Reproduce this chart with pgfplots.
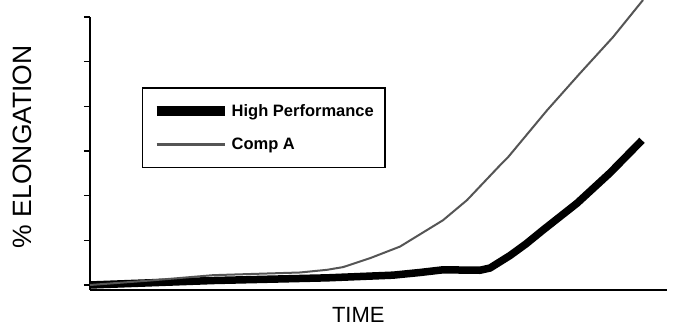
\documentclass[border=0pt]{standalone}
\usepackage{fontspec}
\setmainfont{Liberation Sans}
\usepackage{pgfplots}
\pgfplotsset{compat=1.18}
\definecolor{compgray}{HTML}{555555}
\begin{document}
\begin{tikzpicture}
\begin{axis}[
  width=577pt, height=273pt, scale only axis,
  xmin=0, xmax=577, ymin=-0.112, ymax=6,
  axis lines*=left,
  axis line style={line width=1.8pt, black},
  clip=false,
  xtick=\empty,
  ytick={0,1,2,3,4,5,6}, yticklabels={},
  tick align=outside, major tick length=6pt,
  tick style={line width=1.5pt, black},
  xlabel={TIME}, ylabel={\% ELONGATION},
  xlabel style={at={(axis description cs:0.465,0)}, anchor=north, yshift=-17pt, inner sep=0pt, font=\fontsize{22}{26}\selectfont},
  ylabel style={at={(axis description cs:-0.118,0.525)}, anchor=center, inner sep=0pt, font=\fontsize{26.5}{31}\selectfont},
  legend style={at={(axis description cs:0.09,0.742)}, anchor=north west, draw=black, line width=1.5pt,
    font=\bfseries\fontsize{16.5}{19}\selectfont, inner xsep=9pt, inner ysep=14.5pt, row sep=16pt},
  legend cell align=left,
]
\addplot[black, line width=7.5pt, line join=round,
  legend image code/.code={\draw[black, line width=10pt] (0pt,0pt) -- (68pt,0pt);}] coordinates {
 (0,0) (123,0.10) (237,0.16) (303,0.22) (330,0.28) (353,0.34) (390,0.33) (400,0.38) (410,0.52) (420,0.66) (436,0.92) (453,1.23) (487,1.83) (520,2.51) (552,3.24)
};
\addlegendentry{High Performance}
\addplot[compgray, line width=2pt, line join=round,
  legend image code/.code={\draw[compgray, line width=3pt] (0pt,0pt) -- (68pt,0pt);}] coordinates {
 (0,0) (60,0.10) (123,0.22) (210,0.28) (237,0.34) (253,0.40) (280,0.60) (310,0.86) (353,1.45) (377,1.90) (410,2.68) (418,2.86) (457,3.91) (490,4.74) (523,5.55) (553,6.38)
};
\addlegendentry{Comp A}
\end{axis}
\path (current axis.south west) ++(-90pt,-39pt) coordinate (bbA);
\path (current axis.north east) ++(7pt,17pt) coordinate (bbB);
\pgfresetboundingbox
\path (bbA) rectangle (bbB);
\end{tikzpicture}
\end{document}
